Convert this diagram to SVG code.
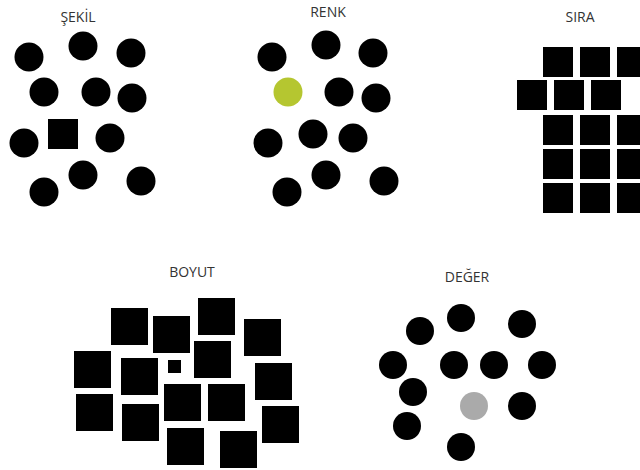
<svg xmlns="http://www.w3.org/2000/svg" width="640" height="470" viewBox="0 0 640 470">
<style>
.t{font-family:"Open Sans","Liberation Sans",sans-serif;font-size:14px;fill:#333;text-anchor:middle}
.c{fill:#000}
.s{fill:#000}
</style>
<rect width="640" height="470" fill="#fff"/>
<g id="sekil">
<text class="t" x="78" y="22">ŞEKİL</text>
<circle class="c" cx="29" cy="57" r="14.5"/>
<circle class="c" cx="83" cy="46" r="14.5"/>
<circle class="c" cx="131" cy="53" r="14.5"/>
<circle class="c" cx="44" cy="92" r="14.5"/>
<circle class="c" cx="96" cy="92" r="14.5"/>
<circle class="c" cx="132" cy="98" r="14.5"/>
<circle class="c" cx="24" cy="143" r="14.5"/>
<rect class="s" x="48" y="119" width="30" height="30"/>
<circle class="c" cx="110" cy="138" r="14.5"/>
<circle class="c" cx="83" cy="175" r="14.5"/>
<circle class="c" cx="44" cy="192" r="14.5"/>
<circle class="c" cx="141" cy="181" r="14.5"/>
</g>
<g id="renk">
<text class="t" x="328" y="17">RENK</text>
<circle class="c" cx="272" cy="57" r="14.5"/>
<circle class="c" cx="326" cy="45" r="14.5"/>
<circle class="c" cx="373" cy="53" r="14.5"/>
<circle cx="288" cy="92" r="14.5" fill="#b5c630"/>
<circle class="c" cx="339" cy="92" r="14.5"/>
<circle class="c" cx="376" cy="98" r="14.5"/>
<circle class="c" cx="268" cy="143" r="14.5"/>
<circle class="c" cx="313" cy="134" r="14.5"/>
<circle class="c" cx="353" cy="138" r="14.5"/>
<circle class="c" cx="326" cy="175" r="14.5"/>
<circle class="c" cx="287" cy="192" r="14.5"/>
<circle class="c" cx="384" cy="181" r="14.5"/>
</g>
<g id="sira">
<text class="t" x="580" y="22">SIRA</text>
<rect class="s" x="543" y="47" width="30" height="30"/>
<rect class="s" x="580" y="47" width="30" height="30"/>
<rect class="s" x="617" y="47" width="30" height="30"/>
<rect class="s" x="517" y="80" width="30" height="30"/>
<rect class="s" x="554" y="80" width="30" height="30"/>
<rect class="s" x="591" y="80" width="30" height="30"/>
<rect class="s" x="543" y="115" width="30" height="30"/>
<rect class="s" x="580" y="115" width="30" height="30"/>
<rect class="s" x="617" y="115" width="30" height="30"/>
<rect class="s" x="543" y="149" width="30" height="30"/>
<rect class="s" x="580" y="149" width="30" height="30"/>
<rect class="s" x="617" y="149" width="30" height="30"/>
<rect class="s" x="543" y="183" width="30" height="30"/>
<rect class="s" x="580" y="183" width="30" height="30"/>
<rect class="s" x="617" y="183" width="30" height="30"/>
</g>
<g id="boyut">
<text class="t" x="192" y="277">BOYUT</text>
<rect class="s" x="111" y="308" width="37" height="37"/>
<rect class="s" x="153" y="316" width="37" height="37"/>
<rect class="s" x="198" y="298" width="37" height="37"/>
<rect class="s" x="244" y="319" width="37" height="37"/>
<rect class="s" x="74" y="351" width="37" height="37"/>
<rect class="s" x="121" y="358" width="37" height="37"/>
<rect class="s" x="168" y="360" width="13" height="13"/>
<rect class="s" x="194" y="341" width="37" height="37"/>
<rect class="s" x="255" y="363" width="37" height="37"/>
<rect class="s" x="76" y="394" width="37" height="37"/>
<rect class="s" x="122" y="404" width="37" height="37"/>
<rect class="s" x="164" y="384" width="37" height="37"/>
<rect class="s" x="208" y="384" width="37" height="37"/>
<rect class="s" x="262" y="406" width="37" height="37"/>
<rect class="s" x="167" y="428" width="37" height="37"/>
<rect class="s" x="220" y="431" width="37" height="37"/>
</g>
<g id="deger">
<text class="t" x="467" y="282">DEĞER</text>
<circle class="c" cx="420" cy="331" r="14"/>
<circle class="c" cx="461" cy="318" r="14"/>
<circle class="c" cx="522" cy="324" r="14"/>
<circle class="c" cx="393" cy="365" r="14"/>
<circle class="c" cx="454" cy="365" r="14"/>
<circle class="c" cx="494" cy="365" r="14"/>
<circle class="c" cx="542" cy="365" r="14"/>
<circle class="c" cx="413" cy="392" r="14"/>
<circle cx="474" cy="406" r="14" fill="#aaaaaa"/>
<circle class="c" cx="522" cy="406" r="14"/>
<circle class="c" cx="407" cy="426" r="14"/>
<circle class="c" cx="461" cy="447" r="14"/>
</g>
</svg>
